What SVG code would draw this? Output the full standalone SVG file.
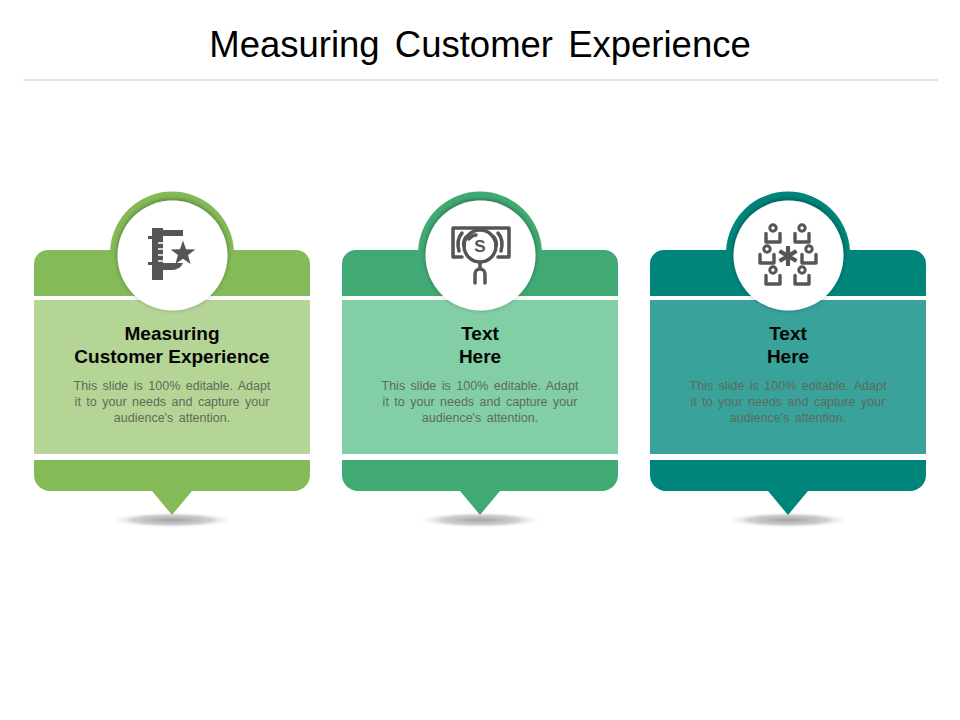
<svg xmlns="http://www.w3.org/2000/svg" width="960" height="720" viewBox="0 0 960 720">
<style>
.title{font:36.500px "Liberation Sans",Arial,sans-serif;fill:#000;text-anchor:middle;word-spacing:5px}
.head{font:bold 19px "Liberation Sans",Arial,sans-serif;fill:#050505;text-anchor:middle}
.body{font:12.500px "Liberation Sans",Arial,sans-serif;fill:#5f6b5a;text-anchor:middle;word-spacing:2px}
.ic{fill:#555}
.st{fill:none;stroke:#555;stroke-width:3.500;stroke-linecap:round;stroke-linejoin:round}
.sh{fill:url(#shadow)}
.disc{fill:#fff;filter:url(#soft)}
.g1{fill:#84bb58}.l1{fill:#b5d596}
.g2{fill:#41aa74}.l2{fill:#82cfa5}
.g3{fill:#00857b}.l3{fill:#38a29b}
</style>
<defs>
<radialGradient id="shadow"><stop offset="0" stop-color="#a4a4a4"/><stop offset="0.6" stop-color="#d0d0d0"/><stop offset="1" stop-color="#fff" stop-opacity="0"/></radialGradient>
<filter id="soft" x="-20%" y="-20%" width="140%" height="140%"><feDropShadow dx="0" dy="-1" stdDeviation="2.500" flood-color="#000" flood-opacity="0.4"/></filter>
<path id="top" d="M0 296V264a14 14 0 0 1 14-14H76.100A62 62 0 0 1 199.900 250H262a14 14 0 0 1 14 14V296Z"/>
<path id="bot" d="M0 460H276V475a16 16 0 0 1-16 16H158L138 515L118 491H16a16 16 0 0 1-16-16Z"/>
<g id="person">
<circle cx="0" cy="-9" r="3.200" fill="none" stroke="#555" stroke-width="3"/>
<path d="M-7 -3.500V5H7V-3.500" fill="none" stroke="#555" stroke-width="3.400" stroke-linejoin="round" stroke-linecap="round"/>
</g>
</defs>
<rect width="960" height="720" fill="#fff"/>
<text class="title" x="480" y="57">Measuring Customer Experience</text>
<path d="M23 80H938" stroke="#dcdcdc" stroke-width="1.500"/>

<g id="card-1" transform="translate(34 0)">
<ellipse class="sh" cx="138" cy="520" rx="64" ry="8"/>
<use href="#top" class="g1"/><rect class="l1" y="300" width="276" height="154"/><use href="#bot" class="g1"/>
<circle class="disc" cx="138.500" cy="255.500" r="55"/>
<path class="ic" d="M118 228H129V230H149L149 236H129V263H149Q146 270 138 270H129V280H118V265H114V262H118V239H114V236H118Z"/>
<path d="M124 243h5M124 249h5M124 255h5M124 261h5" stroke="#fff" stroke-width="1.500"/>
<path class="ic" d="M149 240.500L152.100 249.300L161.400 249.500L154 255.100L156.600 264L149 258.700L141.400 264L144 255.100L136.600 249.500L145.900 249.300Z"/>
<text class="head" x="138" y="340">Measuring</text>
<text class="head" x="138" y="363">Customer Experience</text>
<text class="body" x="138" y="390">This slide is 100% editable. Adapt</text>
<text class="body" x="138" y="406">it to your needs and capture your</text>
<text class="body" x="138" y="422">audience's attention.</text>
</g>

<g id="card-2" transform="translate(342 0)">
<ellipse class="sh" cx="138" cy="520" rx="64" ry="8"/>
<use href="#top" class="g2"/><rect class="l2" y="300" width="276" height="154"/><use href="#bot" class="g2"/>
<circle class="disc" cx="138.500" cy="255.500" r="55"/>
<path class="st" d="M120 257H111V228H167V257H156"/>
<path class="st" d="M120 233q-6 7-3 18M124 237q-3 4-2 9M156 233q6 7 3 18M152 237q3 4 2 9" stroke-width="2.500"/>
<circle class="st" cx="138" cy="246" r="16" fill="#fff"/>
<path class="st" d="M127 239q3-4 7-4" stroke-width="2.500"/>
<text x="138" y="252" font-family="Liberation Sans,Arial,sans-serif" font-weight="bold" font-size="17" fill="#555" text-anchor="middle">S</text>
<path class="st" d="M138 263v6M133 283V274a5 5 0 0 1 10 0V283"/>
<text class="head" x="138" y="340">Text</text>
<text class="head" x="138" y="363">Here</text>
<text class="body" x="138" y="390">This slide is 100% editable. Adapt</text>
<text class="body" x="138" y="406">it to your needs and capture your</text>
<text class="body" x="138" y="422">audience's attention.</text>
</g>

<g id="card-3" transform="translate(650 0)">
<ellipse class="sh" cx="138" cy="520" rx="64" ry="8"/>
<use href="#top" class="g3"/><rect class="l3" y="300" width="276" height="154"/><use href="#bot" class="g3"/>
<circle class="disc" cx="138.500" cy="255.500" r="55"/>
<use href="#person" x="123" y="237"/>
<use href="#person" x="152" y="237"/>
<use href="#person" x="117" y="258"/>
<use href="#person" x="159" y="258"/>
<use href="#person" x="123" y="279"/>
<use href="#person" x="152" y="279"/>
<path d="M138 246V266M129.500 251L146.500 261M146.500 251L129.500 261" stroke="#555" stroke-width="4.200" fill="none"/>
<text class="head" x="138" y="340">Text</text>
<text class="head" x="138" y="363">Here</text>
<text class="body" x="138" y="390">This slide is 100% editable. Adapt</text>
<text class="body" x="138" y="406">it to your needs and capture your</text>
<text class="body" x="138" y="422">audience's attention.</text>
</g>
</svg>
